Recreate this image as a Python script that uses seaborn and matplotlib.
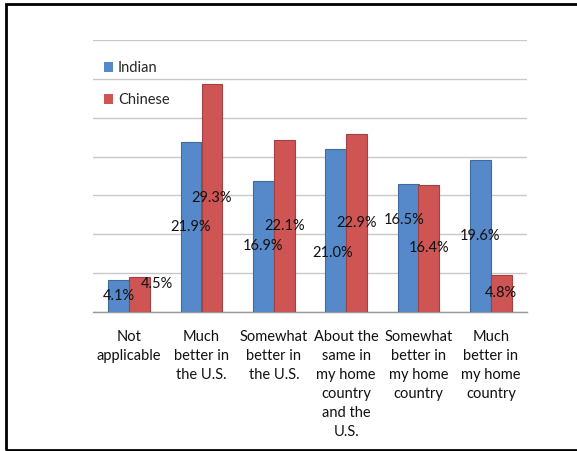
import matplotlib
matplotlib.use("Agg")
import matplotlib.pyplot as plt
import seaborn as sns
import pandas as pd
from matplotlib.patches import Rectangle
from matplotlib.ticker import FixedLocator, MultipleLocator

# data
categories = ["Not\napplicable", "Much\nbetter in\nthe U.S.", "Somewhat\nbetter in\nthe U.S.",
              "About the\nsame in\nmy home\ncountry\nand the\nU.S.",
              "Somewhat\nbetter in\nmy home\ncountry", "Much\nbetter in\nmy home\ncountry"]
indian = [4.1, 21.9, 16.9, 21.0, 16.5, 19.6]
chinese = [4.5, 29.3, 22.1, 22.9, 16.4, 4.8]
groups = ["Indian", "Chinese"]

# label nudges (pixels) where excel moved labels apart
label_shift = {
    "Indian": [(0, 0), (0, 0), (0, 0), (-3, -23), (-4, 28), (0, 0)],
    "Chinese": [(17, 11), (0, 0), (0, 0), (0, 0), (0, 0), (0, 0)],
}

df = pd.DataFrame({
    "category": categories * 2,
    "value": indian + chinese,
    "group": [groups[0]] * len(indian) + [groups[1]] * len(chinese),
})

sns.set_style("white")
plt.rcParams["font.family"] = ["Lato", "DejaVu Sans"]

fig = plt.figure(figsize=(5.77, 4.51), dpi=100)
ax = fig.add_axes([93 / 577, 1 - 312 / 451, (527 - 93) / 577, (312 - 40) / 451])

palette = {"Indian": "#5589C9", "Chinese": "#CF5554"}
sns.barplot(data=df, x="category", y="value", hue="group", palette=palette,
            width=0.58, saturation=1, ax=ax, linewidth=0, zorder=3)

# darker outline like the excel bars
for p in ax.patches:
    if p.get_height() > 0:
        fc = p.get_facecolor()
        p.set_edgecolor((fc[0] * 0.78, fc[1] * 0.78, fc[2] * 0.78, 1))
        p.set_linewidth(0.8)

# labels centred in each bar, nudged where they would clash
for cont, g in zip(ax.containers, groups):
    texts = ax.bar_label(cont, labels=[f"{v:.1f}%" for v in cont.datavalues],
                         label_type="center", fontsize=10.5, color="#111111", zorder=5)
    for t, (dx, dy) in zip(texts, label_shift[g]):
        t.xyann = (dx * 0.72, dy * 0.72)

ax.set_ylim(0, 35)
ax.set_xlim(-0.5, len(categories) - 0.5)
ax.yaxis.set_major_locator(MultipleLocator(5))
ax.grid(axis="y", color="#c8c8c8", linewidth=1, zorder=0)
ax.set_yticklabels([])
ax.tick_params(axis="y", length=0)
ax.set_xlabel("")
ax.set_ylabel("")

for s in ["left", "right", "top"]:
    ax.spines[s].set_visible(False)
ax.spines["bottom"].set_color("#999999")
ax.spines["bottom"].set_linewidth(1)

ax.tick_params(axis="x", which="major", length=0, pad=13, labelsize=10.5, labelcolor="#111111")
ax.xaxis.set_minor_locator(FixedLocator([i - 0.5 for i in range(len(categories) + 1)]))
ax.tick_params(axis="x", which="minor", length=5, color="#999999", width=1)
for lbl in ax.get_xticklabels():
    lbl.set_linespacing(1.45)
    lbl.set_verticalalignment("top")

leg = ax.legend(loc="upper left", bbox_to_anchor=(104 / 577, 1 - 61 / 451),
                bbox_transform=fig.transFigure, frameon=False, fontsize=10.5,
                handlelength=0.65, handleheight=0.65, handletextpad=0.3,
                labelspacing=1.25, borderpad=0, borderaxespad=0)

# black frame round the chart (right side runs off the picture)
fig.patches.append(Rectangle((6 / 577, 1 / 451), 1.1, 446 / 451, transform=fig.transFigure,
                             fill=False, edgecolor="black", linewidth=2))

fig.savefig("out.png", dpi=100)
